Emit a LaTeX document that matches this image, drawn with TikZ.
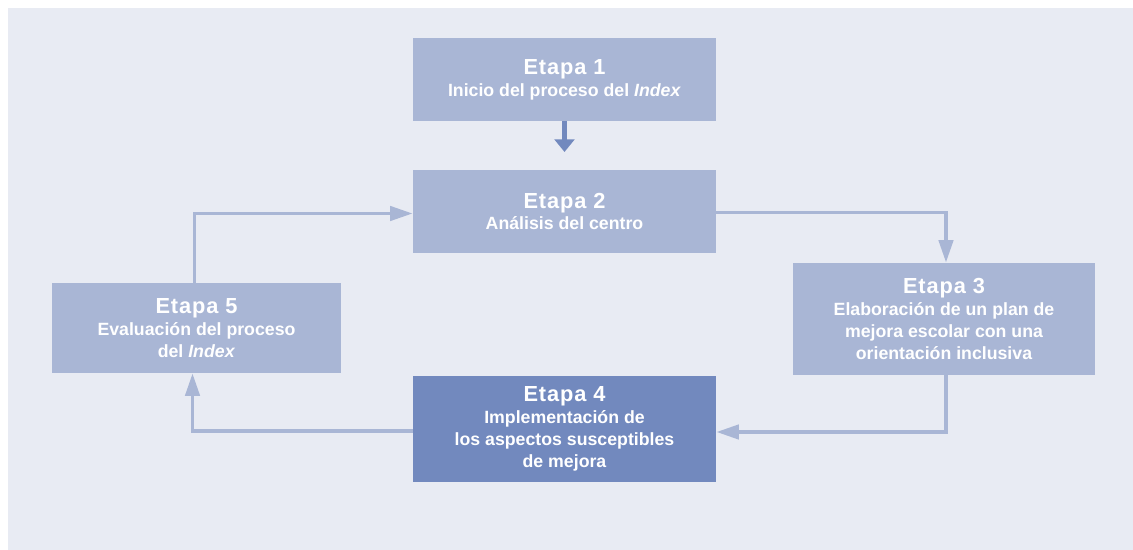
\documentclass[tikz,border=0pt]{standalone}
\usepackage{fontspec}
\setmainfont{Liberation Sans}
\usepackage{xcolor}
\usetikzlibrary{arrows.meta,positioning}

\definecolor{fondo}{HTML}{E8EBF3}
\definecolor{caja}{HTML}{A9B6D5}
\definecolor{cajaosc}{HTML}{7289BE}

\newcommand{\titulo}[1]{{\fontsize{15.5}{19}\selectfont\addfontfeature{LetterSpace=4}#1}\\}

\begin{document}
\begin{tikzpicture}[x=0.025cm,y=-0.025cm,
  etapa/.style={fill=caja,text=white,font=\bfseries\fontsize{12.6}{15.6}\selectfont,
    align=center,inner sep=0pt},
  flecha/.style={draw=caja,line width=2.8pt,-{Triangle[length=16pt,width=10pt]}}]

\useasboundingbox (0,0) rectangle (1133,550);
\fill[white] (0,0) rectangle (1133,550);
\fill[fondo] (8,8) rectangle (1133,550);

\node[etapa,minimum width=303*0.025cm,minimum height=83*0.025cm] (e1) at (564.5,79.5)
  {\titulo{Etapa 1}Inicio del proceso del \textit{Index}};
\node[etapa,minimum width=303*0.025cm,minimum height=83*0.025cm] (e2) at (564.5,211.5)
  {\titulo{Etapa 2}Análisis del centro};
\node[etapa,minimum width=302*0.025cm,minimum height=112*0.025cm] (e3) at (944,319)
  {\titulo{Etapa 3}Elaboración de un plan de\\mejora escolar con una\\orientación inclusiva};
\node[etapa,fill=cajaosc,minimum width=303*0.025cm,minimum height=106*0.025cm] (e4) at (564.5,429)
  {\titulo{Etapa 4}Implementación de\\los aspectos susceptibles\\de mejora};
\node[etapa,minimum width=289*0.025cm,minimum height=90*0.025cm] (e5) at (196.5,328)
  {\titulo{Etapa 5}Evaluación del proceso\\del \textit{Index}};

\coordinate (f1) at (564.5,152);
\draw[draw=cajaosc,line width=3.5pt,-{Triangle[length=9pt,width=14pt]}] (e1.south) -- (f1);

\draw[flecha] ([yshift=-1*0.025cm]e2.east) -| ([xshift=2*0.025cm]e3.north);
\draw[flecha] ([xshift=2*0.025cm]e3.south) |- ([yshift=-3*0.025cm]e4.east);
\draw[flecha] ([yshift=-2*0.025cm]e4.west) -| ([xshift=-4*0.025cm]e5.south);
\draw[flecha] ([xshift=-2*0.025cm]e5.north) |- ([yshift=-2*0.025cm]e2.west);
\end{tikzpicture}
\end{document}
